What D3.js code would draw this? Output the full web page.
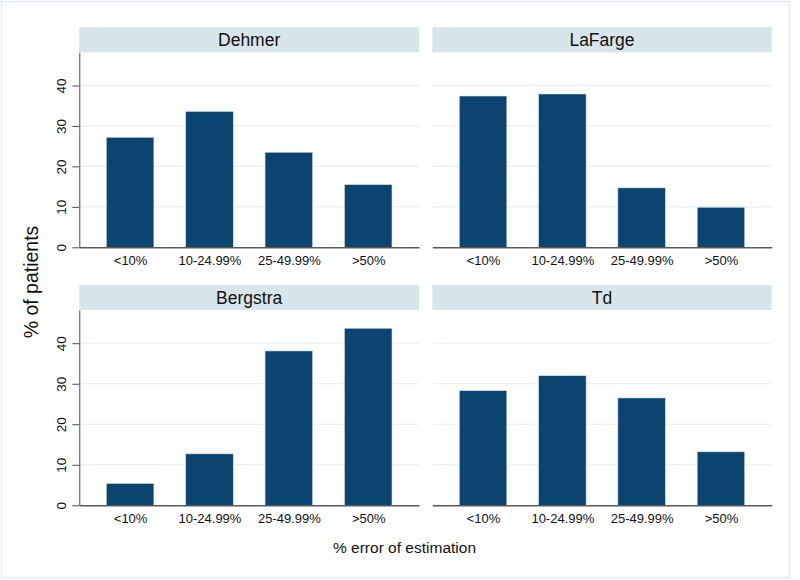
<!DOCTYPE html>
<html>
<head>
<meta charset="utf-8">
<script src="https://cdn.jsdelivr.net/npm/d3@7"></script>
<style>
  html, body { margin: 0; padding: 0; background: #ffffff; }
  svg { display: block; font-family: "Liberation Sans", Arial, Helvetica, sans-serif; }
</style>
</head>
<body>
<svg id="chart" width="800" height="580"></svg>
<script>
// ---- data ----
const categories = ["<10%", "10-24.99%", "25-49.99%", ">50%"];
const panelNames = ["Dehmer", "LaFarge", "Bergstra", "Td"];
const dehmer   = [27.2, 33.6, 23.5, 15.5];
const lafarge  = [37.4, 37.9, 14.7, 9.9];
const bergstra = [5.4, 12.7, 38.1, 43.7];
const td       = [28.3, 32.0, 26.5, 13.2];
const yTicks   = [0, 10, 20, 30, 40];
const yTitle = "% of patients";
const xTitle = "% error of estimation";

const seriesValues = [dehmer, lafarge, bergstra, td];

// ---- layout ----
const svg = d3.select("#chart");
const colX = [{x0: 79.3, x1: 419}, {x0: 432.3, x1: 771.7}];
const rowY = [{hTop: 27.3, top: 52.3, base: 247.3}, {hTop: 285, top: 310, base: 505.3}];
const barColor = "#0b4470";
const stripColor = "#d8e5eb";
const gridColor = "#e8f0f2";

// outer frame
svg.append("rect")
  .attr("x", 1.5).attr("y", 1.5).attr("width", 788).attr("height", 576)
  .attr("fill", "#ffffff").attr("stroke", "#e3edf0").attr("stroke-width", 1.5);

panelNames.forEach((name, i) => {
  const col = i % 2, row = Math.floor(i / 2);
  const cx = colX[col], ry = rowY[row];
  const vals = seriesValues[i];

  const x = d3.scalePoint().domain(categories).range([cx.x0, cx.x1]).padding(0.64);
  const y = d3.scaleLinear().domain([0, 48.2]).range([ry.base, ry.top]);
  const bw = x.step() * 0.6;

  const g = svg.append("g");

  // strip header
  g.append("rect")
    .attr("x", cx.x0).attr("y", ry.hTop)
    .attr("width", cx.x1 - cx.x0).attr("height", ry.top - ry.hTop)
    .attr("fill", stripColor);
  g.append("text")
    .attr("x", (cx.x0 + cx.x1) / 2).attr("y", ry.hTop + 18.8)
    .attr("text-anchor", "middle")
    .attr("font-size", "17.5px").attr("fill", "#111")
    .text(name);

  // gridlines
  g.selectAll("line.grid").data(yTicks.filter(t => t > 0)).join("line")
    .attr("class", "grid")
    .attr("x1", cx.x0).attr("x2", cx.x1)
    .attr("y1", d => y(d)).attr("y2", d => y(d))
    .attr("stroke", gridColor).attr("stroke-width", 1.2);

  // bars
  g.selectAll("rect.bar").data(vals).join("rect")
    .attr("class", "bar")
    .attr("x", (d, j) => x(categories[j]) - bw / 2)
    .attr("width", bw)
    .attr("y", d => y(d))
    .attr("height", d => y(0) - y(d))
    .attr("fill", barColor)
    .attr("stroke", "#dbe6ec").attr("stroke-width", 0.6);

  // x axis
  const xa = g.append("g")
    .attr("transform", `translate(0,${ry.base})`)
    .call(d3.axisBottom(x).tickSize(0).tickSizeOuter(0).tickPadding(0));
  xa.select(".domain").attr("stroke", "#5a5a5a").attr("stroke-width", 1.6);
  xa.selectAll(".tick text")
    .attr("y", 18).attr("dy", 0)
    .attr("font-size", "13px").attr("fill", "#111")
    .attr("font-family", "Liberation Sans, Arial, Helvetica, sans-serif");

  // y axis only on left column
  if (col === 0) {
    const ya = g.append("g")
      .attr("transform", `translate(${cx.x0},0)`)
      .call(d3.axisLeft(y).tickValues(yTicks).tickSize(7).tickSizeOuter(0));
    ya.select(".domain").attr("stroke", "#4a4a4a").attr("stroke-width", 1);
    ya.selectAll(".tick line").attr("stroke", "#4a4a4a").attr("stroke-width", 1);
    ya.selectAll(".tick text")
      .attr("transform", "rotate(-90)")
      .attr("x", 0).attr("y", -13.8).attr("dy", 0)
      .attr("text-anchor", "middle")
      .attr("font-size", "13.5px").attr("fill", "#111")
      .attr("font-family", "Liberation Sans, Arial, Helvetica, sans-serif");
  }
});

// axis titles
svg.append("text")
  .attr("transform", "translate(38,282) rotate(-90)")
  .attr("text-anchor", "middle")
  .attr("font-size", "19.5px").attr("fill", "#111")
  .text(yTitle);

svg.append("text")
  .attr("x", 404.5).attr("y", 552.7)
  .attr("text-anchor", "middle")
  .attr("font-size", "15.5px").attr("fill", "#111")
  .text(xTitle);
</script>
</body>
</html>
